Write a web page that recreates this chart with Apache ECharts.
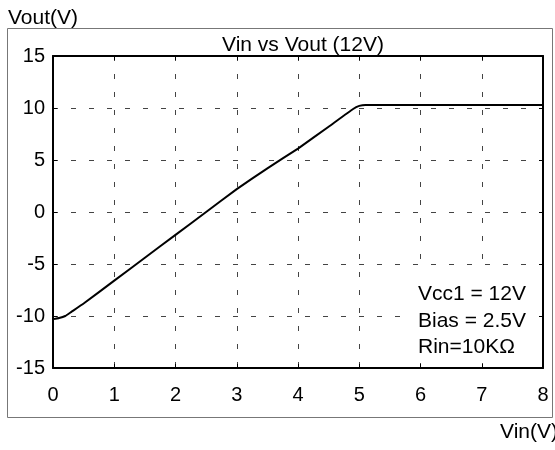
<!DOCTYPE html>
<html lang="en">
  <head>
    <meta charset="UTF-8" />
    <title>Vin vs Vout (12V)</title>
    <script src="https://cdn.jsdelivr.net/npm/echarts@6/dist/echarts.min.js"></script>
    <style>
      html, body { margin: 0; padding: 0; background: #fff; }
      #chart { width: 555px; height: 450px; }
    </style>
  </head>
  <body>
    <div id="chart"></div>
    <script>
      // 输入电压 / 输出电压
      const vin = [0, 0.1, 0.2, 0.3, 0.5, 1.0, 1.5, 2.0, 2.5, 3.0, 3.5, 4.0, 4.5, 4.9, 5.0, 5.1, 8.0];
      const vout = [-10.3, -10.2, -10.0, -9.6, -8.8, -6.6, -4.4, -2.2, 0.0, 2.2, 4.2, 6.1, 8.2, 9.9, 10.2, 10.3, 10.3];
      const notes = ["Vcc1 = 12V", "Bias = 2.5V", "Rin=10KΩ"];

      const font = "'Liberation Sans', Arial, sans-serif";
      const chart = echarts.init(document.getElementById("chart"));

      const gridDash = {
        show: true,
        lineStyle: { color: "#444", width: 1, type: [5, 13] },
      };
      const boxAxis = (extra) =>
        Object.assign(
          {
            type: "value",
            axisLine: { show: true, onZero: false, lineStyle: { color: "#000", width: 2 } },
            axisTick: { show: true, inside: true, length: 4, lineStyle: { color: "#000" } },
            axisLabel: { show: false },
            splitLine: { show: false },
          },
          extra
        );

      const option = {
        backgroundColor: "#fff",
        animation: false,
        title: {
          text: "Vin vs Vout (12V)",
          left: 298,
          top: 30,
          textAlign: "center",
          textStyle: { fontFamily: font, fontSize: 21, fontWeight: "normal", color: "#000" },
        },
        grid: { left: 53, right: 12, top: 56, bottom: 82 },
        xAxis: [
          boxAxis({
            min: 0,
            max: 8,
            interval: 1,
            axisLabel: { color: "#000", fontFamily: font, fontSize: 20, margin: 17 },
            splitLine: gridDash,
          }),
          boxAxis({ position: "top", min: 0, max: 8, interval: 1 }),
        ],
        yAxis: [
          boxAxis({
            min: -15,
            max: 15,
            interval: 5,
            axisLabel: { color: "#000", fontFamily: font, fontSize: 20, margin: 8 },
            splitLine: gridDash,
          }),
          boxAxis({ position: "right", min: -15, max: 15, interval: 5 }),
        ],
        graphic: [
          {
            type: "rect",
            shape: { x: 7.5, y: 28.5, width: 545, height: 389 },
            style: { fill: "none", stroke: "#777", lineWidth: 1 },
            z: -1,
          },
          {
            // 注释背景，遮住网格线
            type: "rect",
            shape: { x: 400, y: 267, width: 138, height: 96 },
            style: { fill: "#fff" },
            z: 1,
          },
          {
            type: "text",
            left: 8,
            top: 8,
            style: { text: "Vout(V)", font: "21px " + font, fill: "#000" },
          },
          {
            type: "text",
            left: 500,
            top: 422,
            style: { text: "Vin(V)", font: "21px " + font, fill: "#000" },
          },
          {
            type: "text",
            left: 418,
            top: 281,
            z: 2,
            style: { text: notes.join("\n"), font: "21px " + font, lineHeight: 26.5, fill: "#000" },
          },
        ],
        series: [
          {
            type: "line",
            data: vin.map((v, i) => [v, vout[i]]),
            showSymbol: false,
            smooth: 0.1,
            lineStyle: { color: "#000", width: 2 },
            z: 5,
          },
        ],
      };

      chart.setOption(option);
    </script>
  </body>
</html>
